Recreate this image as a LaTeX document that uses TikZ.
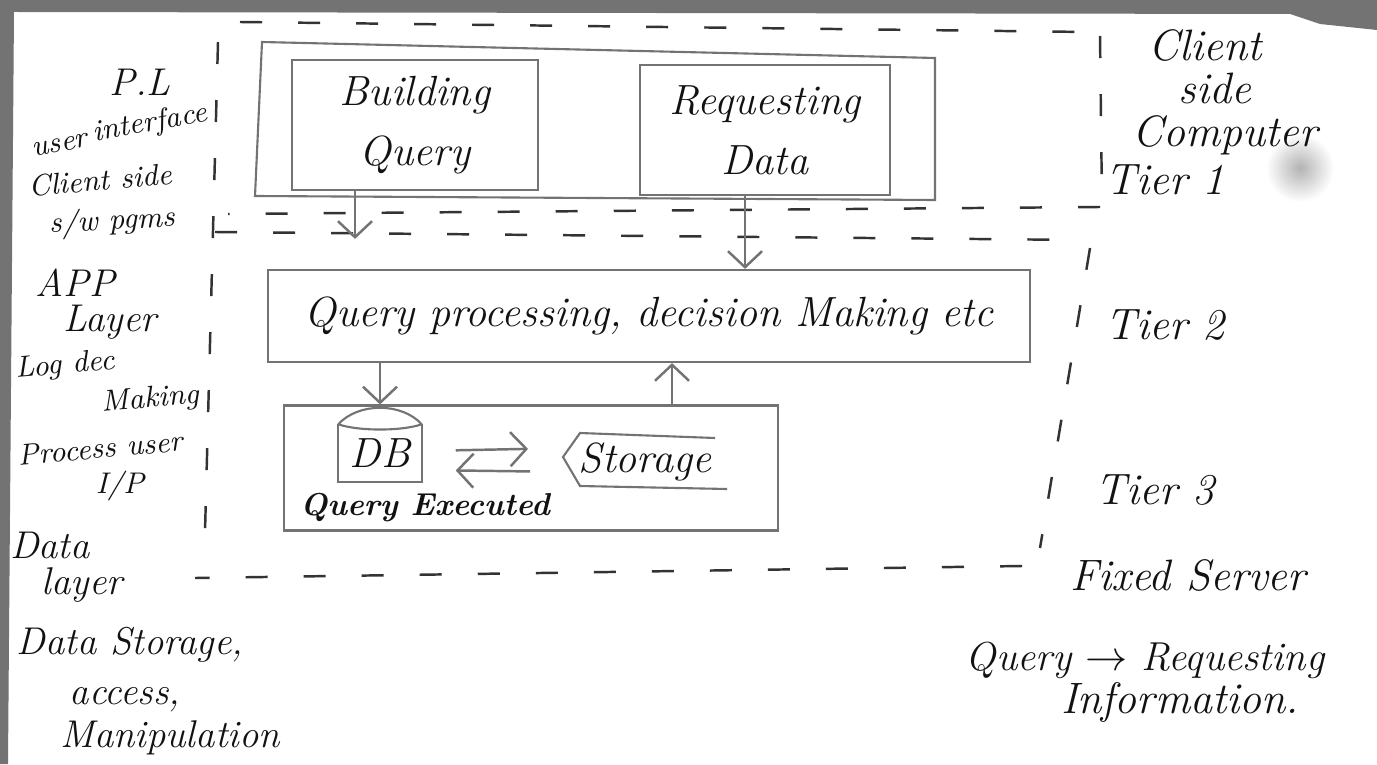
\documentclass[tikz,border=0pt]{standalone}
\usepackage{tikz}
\usetikzlibrary{calc,arrows.meta}
\definecolor{pencil}{gray}{0.45}
\definecolor{ink}{gray}{0.07}
\tikzset{
	box/.style={draw=pencil, line width=0.6pt, inner sep=0pt, align=center, text=ink, font=\fontsize{12}{17}\selectfont\itshape},
	tierline/.style={draw=black!80, line width=0.7pt, dash pattern=on 0.22cm off 0.36cm},
	arr/.style={draw=pencil, line width=0.7pt, -{Straight Barb[length=1.6mm,width=3.4mm]}},
	lbl/.style={text=ink, inner sep=1pt, font=\fontsize{11}{13}\selectfont\itshape},
	lbls/.style={lbl, font=\fontsize{8.5}{10}\selectfont\itshape},
	rlbl/.style={text=ink, inner sep=1pt, font=\fontsize{12.5}{15}\selectfont\itshape}
}

\begin{document}
\begin{tikzpicture}[x=0.01cm, y=-0.01cm]
				\useasboundingbox (0,0) rectangle (1377,764);
				\fill[white] (0,0) rectangle (1377,764);
				
				% edge of the photo
				\fill[black!55] (0,0) -- (1377,0) -- (1377,30) -- (1320,24) -- (1290,14) -- (14,12) -- (8,764) -- (0,764) -- cycle;
				\shade[inner color=black!30, outer color=white] (1300,168) circle (34);
				
				% tier borders
				\draw[tierline] (240,22) -- (1088,32);
				\draw[tierline] (1100,36) -- (1102,205);
				\draw[tierline] (1100,207) -- (228,214);
				\draw[tierline] (215,232) -- (1085,240);
				\draw[tierline] (1090,248) -- (1040,548);
				\draw[tierline] (1022,566) -- (195,578);
				\draw[tierline] (218,42) -- (205,532);
				
				% tier 1
				\draw[draw=pencil, line width=0.6pt] (262,42) -- (935,58) -- (935,200) -- (255,196) -- cycle;
				\node[box, minimum width=2.45cm, minimum height=1.3cm] (bq) at (415,125) {Building\\Query};
				\node[box, minimum width=2.5cm, minimum height=1.3cm] (rd) at (765,130) {Requesting\\Data};
				
				% tier 2
				\node[box, minimum width=7.62cm, minimum height=0.92cm] (qp) at (649,316) {Query processing, decision Making etc};
				
				% tier 3
				\node[box, minimum width=4.93cm, minimum height=1.25cm] (dl) at (531,468) {};
				\node[text=ink, inner sep=0pt, minimum width=0.82cm, minimum height=0.56cm, font=\fontsize{12}{14}\selectfont\itshape] (db) at (380,453) {DB};
				\draw[draw=pencil, line width=0.6pt] (db.north west) -- (db.south west) -- (db.south east) -- (db.north east);
				\draw[draw=pencil, line width=0.6pt] (db.north west) .. controls +(20,-22) and +(-20,-22) .. (db.north east);
				\draw[draw=pencil, line width=0.6pt] (db.north west) .. controls +(20,7) and +(-20,7) .. (db.north east);
				\node[lbl, font=\fontsize{9}{11}\selectfont\bfseries\itshape] (qe) at (425,508) {Query Executed};
				\node[text=ink, inner sep=2pt, font=\fontsize{12}{14}\selectfont\itshape] (st) at (645,462) {Storage};
				\draw[draw=pencil, line width=0.6pt] (715,438) -- (580,433) -- (563,457) -- (580,486) -- (727,489);
				
				% arrows
				\coordinate (bqa) at ($(bq.south)+(-60,0)$);
				\draw[arr, shorten >=0.3cm] (bqa) -- (bqa |- qp.north);
				\coordinate (rda) at ($(rd.south)+(-20,0)$);
				\draw[arr] (rda) -- (rda |- qp.north);
				\draw[arr] (qp.south -| db) -- (dl.north -| db);
				\coordinate (upa) at ($(st.north)+(27,0)$);
				\draw[arr] (dl.north -| upa) -- (qp.south -| upa);
				\draw[arr, shorten <=0.34cm, shorten >=0.43cm] ([yshift=0.02cm]db.east) -- ([yshift=0.14cm]st.west);
				\draw[arr, shorten <=0.41cm, shorten >=0.34cm] ([yshift=-0.1cm]st.west) -- ([yshift=-0.17cm]db.east);
				
				% left notes
				\node[lbl] (pl) at (140,82) {P.L};
				\node[lbls, rotate=10] (ui1) at (60,145) {user};
				\node[lbls, rotate=10] (ui2) at (150,124) {interface};
				\node[lbls, rotate=5] (cs1) at (100,180) {Client side};
				\node[lbls, rotate=3] (cs2) at (112,222) {s/w pgms};
				\node[lbl] (app1) at (75,283) {APP};
				\node[lbl] (app2) at (110,322) {Layer};
				\node[lbls, rotate=5] (ldm1) at (65,366) {Log dec};
				\node[lbls, rotate=5] (ldm2) at (150,400) {Making};
				\node[lbls, rotate=5] (pui1) at (100,448) {Process user};
				\node[lbls] (pui2) at (120,486) {I/P};
				\node[lbl] (dly1) at (50,545) {Data};
				\node[lbl] (dly2) at (82,585) {layer};
				\node[lbl] (ds1) at (130,645) {Data Storage,};
				\node[lbl] (ds2) at (125,700) {access,};
				\node[lbl] (ds3) at (170,738) {Manipulation};
				
				% right notes
				\node[rlbl] (cl1) at (1205,45) {Client};
				\node[rlbl] (cl2) at (1215,88) {side};
				\node[rlbl] (cl3) at (1225,135) {Computer};
				\node[rlbl] (t1) at (1165,180) {Tier 1};
				\node[rlbl] (t2) at (1165,325) {Tier 2};
				\node[rlbl] (t3) at (1155,490) {Tier 3};
				\node[rlbl] (fs) at (1188,575) {Fixed Server};
				\node[rlbl, font=\fontsize{11.5}{14}\selectfont\itshape] (qr) at (1145,660) {Query $\to$ Requesting};
				\node[rlbl] (inf) at (1180,702) {Information.};
\end{tikzpicture}
\end{document}
